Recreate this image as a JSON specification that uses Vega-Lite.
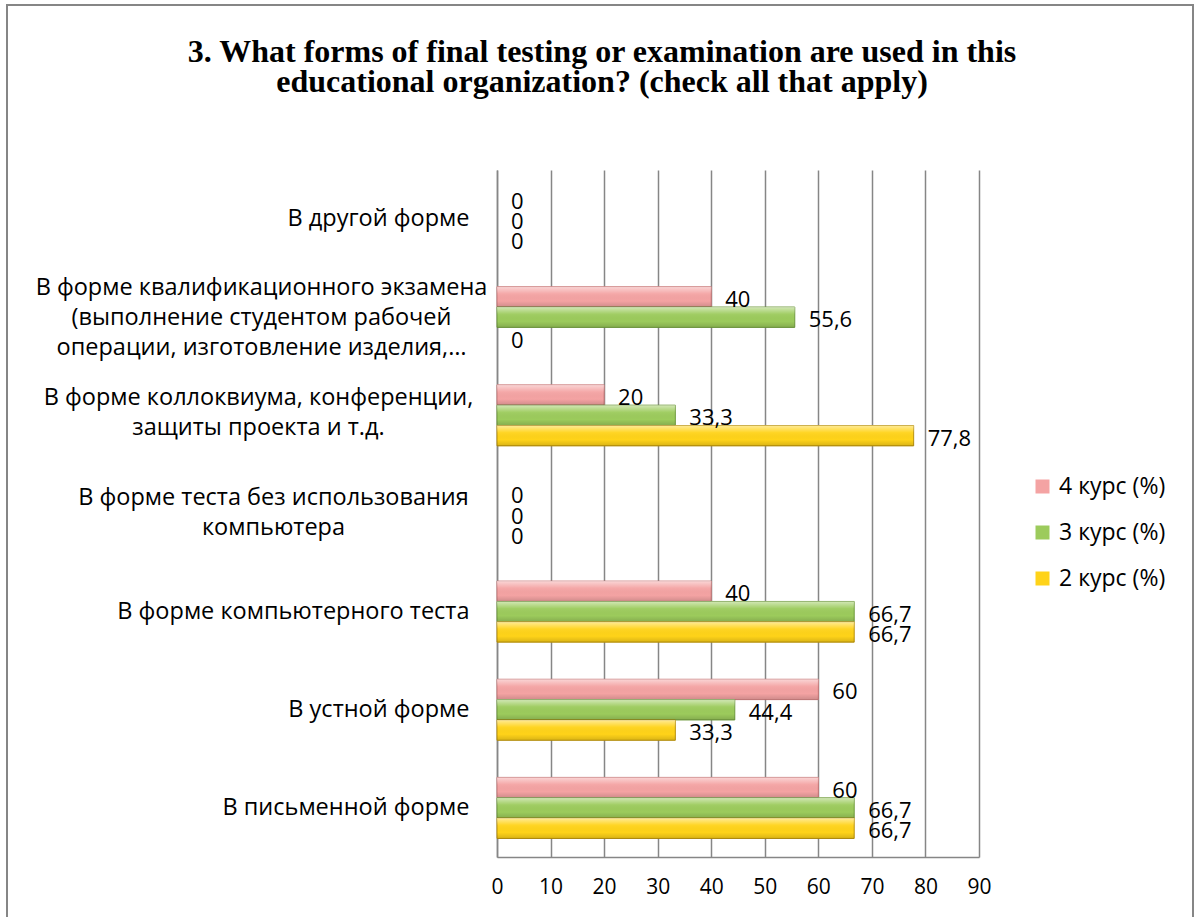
{
  "$schema": "https://vega.github.io/schema/vega-lite/v6.json",
  "autosize": "none",
  "width": 1186,
  "height": 1017,
  "padding": {"left": 7, "top": 5, "right": 2, "bottom": -105},
  "background": "white",
  "title": {
    "text": ["3. What forms of final testing or examination are used in this", "educational organization? (check all that apply)"],
    "font": "Liberation Serif",
    "fontSize": 32,
    "fontWeight": "bold",
    "color": "black",
    "anchor": "middle",
    "frame": "group",
    "dx": 2,
    "offset": 0,
    "dy": 94,
    "lineHeight": 30
  },
  "config": {
    "view": {"stroke": "#868686", "strokeWidth": 2},
    "font": "Open Sans"
  },
  "data": {
    "values": [
      {"cat": "В другой форме", "series": "4 курс (%)", "value": 0, "label": "0"},
      {"cat": "В другой форме", "series": "3 курс (%)", "value": 0, "label": "0"},
      {"cat": "В другой форме", "series": "2 курс (%)", "value": 0, "label": "0"},
      {"cat": "В форме квалификационного экзамена|(выполнение студентом рабочей|операции, изготовление изделия,…", "series": "4 курс (%)", "value": 40, "label": "40"},
      {"cat": "В форме квалификационного экзамена|(выполнение студентом рабочей|операции, изготовление изделия,…", "series": "3 курс (%)", "value": 55.6, "label": "55,6"},
      {"cat": "В форме квалификационного экзамена|(выполнение студентом рабочей|операции, изготовление изделия,…", "series": "2 курс (%)", "value": 0, "label": "0"},
      {"cat": "В форме коллоквиума, конференции,|защиты проекта и т.д.", "series": "4 курс (%)", "value": 20, "label": "20"},
      {"cat": "В форме коллоквиума, конференции,|защиты проекта и т.д.", "series": "3 курс (%)", "value": 33.3, "label": "33,3"},
      {"cat": "В форме коллоквиума, конференции,|защиты проекта и т.д.", "series": "2 курс (%)", "value": 77.8, "label": "77,8"},
      {"cat": "В форме теста без использования|компьютера", "series": "4 курс (%)", "value": 0, "label": "0"},
      {"cat": "В форме теста без использования|компьютера", "series": "3 курс (%)", "value": 0, "label": "0"},
      {"cat": "В форме теста без использования|компьютера", "series": "2 курс (%)", "value": 0, "label": "0"},
      {"cat": "В форме компьютерного теста", "series": "4 курс (%)", "value": 40, "label": "40"},
      {"cat": "В форме компьютерного теста", "series": "3 курс (%)", "value": 66.7, "label": "66,7"},
      {"cat": "В форме компьютерного теста", "series": "2 курс (%)", "value": 66.7, "label": "66,7"},
      {"cat": "В устной форме", "series": "4 курс (%)", "value": 60, "label": "60"},
      {"cat": "В устной форме", "series": "3 курс (%)", "value": 44.4, "label": "44,4"},
      {"cat": "В устной форме", "series": "2 курс (%)", "value": 33.3, "label": "33,3"},
      {"cat": "В письменной форме", "series": "4 курс (%)", "value": 60, "label": "60"},
      {"cat": "В письменной форме", "series": "3 курс (%)", "value": 66.7, "label": "66,7"},
      {"cat": "В письменной форме", "series": "2 курс (%)", "value": 66.7, "label": "66,7"}
    ]
  },
  "encoding": {
    "y": {
      "field": "cat",
      "type": "nominal",
      "sort": null,
      "scale": {"range": [165, 852], "paddingInner": 0.378, "paddingOuter": 0.189},
      "axis": {
        "title": null,
        "offset": -490,
        "labelExpr": "split(datum.value, '|')",
        "labelFont": "Open Sans",
        "labelFontSize": 23.5,
        "labelColor": "black",
        "labelLineHeight": 30,
        "labelAlign": {
          "condition": {"test": "indexof(datum.value, '|') >= 0", "value": "center"},
          "value": "right"
        },
        "labelPadding": {
          "condition": [
            {"test": "indexof(datum.value, 'квалификац') >= 0", "value": 236},
            {"test": "indexof(datum.value, 'коллоквиум') >= 0", "value": 239},
            {"test": "indexof(datum.value, 'без использования') >= 0", "value": 224}
          ],
          "value": 28
        },
        "labelOffset": {
          "condition": [
            {"test": "indexof(datum.value, 'квалификац') >= 0", "value": -29},
            {"test": "indexof(datum.value, 'коллоквиум') >= 0", "value": -17},
            {"test": "indexof(datum.value, 'без использования') >= 0", "value": -16}
          ],
          "value": 0
        },
        "labelLimit": 600,
        "ticks": false,
        "domainColor": "#868686",
        "domainWidth": 1.5,
        "grid": false
      }
    },
    "yOffset": {
      "field": "series",
      "type": "nominal",
      "scale": {"domain": ["4 курс (%)", "3 курс (%)", "2 курс (%)"], "paddingInner": 0, "paddingOuter": 0}
    },
    "x": {
      "field": "value",
      "type": "quantitative",
      "scale": {"domain": [0, 90], "nice": false, "range": [490, 972]},
      "axis": {
        "title": null,
        "offset": -165,
        "values": [0, 10, 20, 30, 40, 50, 60, 70, 80, 90],
        "labelFont": "Open Sans",
        "labelFontSize": 21,
        "labelColor": "black",
        "labelPadding": 19,
        "labelFlush": false,
        "ticks": false,
        "domainColor": "#868686",
        "domainWidth": 1.5,
        "grid": true,
        "gridColor": "#868686",
        "gridWidth": 1.5
      }
    }
  },
  "layer": [
    {
      "mark": {"type": "bar", "strokeWidth": 1},
      "encoding": {
        "color": {
          "field": "series",
          "type": "nominal",
          "scale": {"domain": ["4 курс (%)", "3 курс (%)", "2 курс (%)"], "range": ["#F4A3A3", "#9CCB5C", "#FFD319"]},
          "legend": {
            "title": null,
            "orient": "none",
            "legendX": 1024,
            "legendY": 470,
            "symbolType": "square",
            "symbolSize": 196,
            "symbolStrokeWidth": 0,
            "labelFont": "Open Sans",
            "labelFontSize": 23,
            "labelColor": "black",
            "rowPadding": 22,
            "labelOffset": 5
          }
        },
        "stroke": {
          "condition": {"test": "datum.value == 0", "value": null},
          "field": "series",
          "type": "nominal",
          "scale": {"domain": ["4 курс (%)", "3 курс (%)", "2 курс (%)"], "range": ["#C87878", "#6F9A3C", "#B8900A"]},
          "legend": null
        }
      }
    },
    {
      "mark": {
        "type": "bar",
        "fill": {
          "gradient": "linear",
          "x1": 0, "y1": 0, "x2": 0, "y2": 1,
          "stops": [
            {"offset": 0, "color": "rgba(255,255,255,0.55)"},
            {"offset": 0.35, "color": "rgba(255,255,255,0.05)"},
            {"offset": 0.7, "color": "rgba(0,0,0,0)"},
            {"offset": 1, "color": "rgba(0,0,0,0.15)"}
          ]
        }
      },
      "encoding": {}
    },
    {
      "mark": {"type": "text", "align": "left", "baseline": "middle", "dx": 14, "dy": 3, "fontSize": 22, "font": "Open Sans", "color": "black"},
      "encoding": {
        "text": {"field": "label"}
      }
    }
  ]
}
